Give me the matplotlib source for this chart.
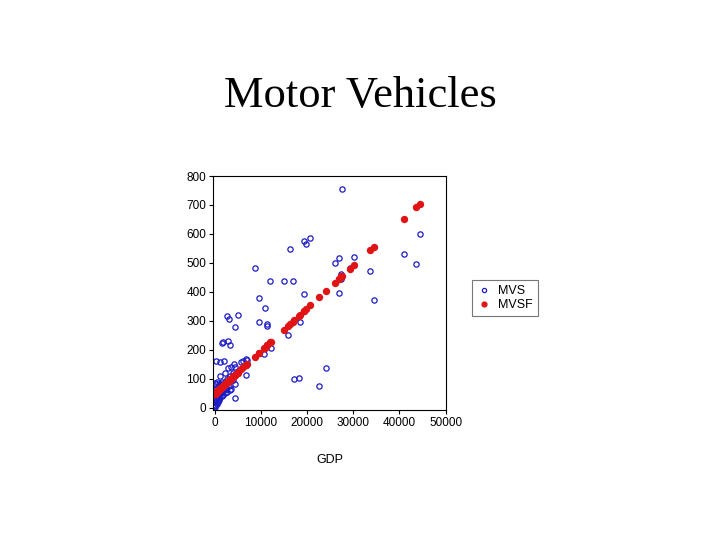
import matplotlib
matplotlib.use('Agg')
import matplotlib.pyplot as plt

# GDP vs motor vehicles (MVS) and fitted values (MVSF)
gdp = [27660, 44540, 41020, 43610, 33690, 34410, 30100, 26940, 26080, 27300,
       27450, 26870, 20690, 19250, 19760, 16380, 8690, 12070, 14940, 16880,
       19250, 9550, 10850, 9600, 11350, 11400, 18390, 15950, 12200, 10780,
       2730, 3230, 5030, 4380, 1650, 1940, 2870, 3450, 430, 1150,
       2010, 24070, 18320, 17240, 22700, 4530, 6750, 7040, 5750, 1290,
       2370, 4170, 4530, 430, 930, 4380, 3450, 29300,
       3000, 3500, 2600, 3100, 3600, 2800, 2200, 3900, 4100, 2500,
       3300, 5100, 6200, 6800,
       100, 200, 150, 300, 400, 350, 500, 600, 700, 800,
       900, 1000, 1100, 1200, 1300, 1400, 1500, 1600, 1700, 1800,
       2000, 250, 150, 600, 50, 80, 120, 200, 450, 700,
       900, 1050, 1250, 1550, 1900, 2300]

mvs = [754, 598, 531, 496, 471, 370, 520, 518, 501, 461,
       445, 397, 586, 574, 566, 549, 483, 437, 436, 436,
       394, 378, 345, 295, 290, 282, 297, 249, 207, 184,
       318, 305, 319, 280, 224, 225, 230, 217, 160, 159,
       161, 137, 103, 97, 76, 33, 111, 164, 156, 108,
       118, 152, 141, 83, 83, 83, 60, 482,
       135, 140, 100, 75, 65, 55, 90, 120, 95, 65,
       110, 128, 160, 168,
       5, 10, 20, 15, 30, 45, 25, 40, 55, 35,
       60, 45, 70, 50, 80, 60, 75, 55, 90, 70,
       60, 65, 85, 90, 2, 8, 30, 50, 12, 20,
       30, 25, 35, 40, 45, 50]

mvsf = [456, 705, 653, 692, 545, 556, 492, 445, 432, 450,
        453, 444, 353, 332, 339, 289, 175, 225, 268, 296,
        332, 188, 207, 189, 215, 216, 319, 283, 227, 206,
        87, 95, 121, 112, 71, 76, 89, 98, 53, 64,
        77, 403, 318, 302, 383, 114, 147, 151, 132, 66,
        82, 109, 114, 53, 61, 112, 98, 480,
        91, 99, 85, 93, 100, 88, 80, 105, 108, 84,
        96, 122, 139, 148,
        48, 50, 49, 51, 53, 52, 54, 56, 57, 59,
        60, 62, 63, 65, 66, 68, 69, 71, 72, 74,
        77, 51, 49, 56, 48, 48, 49, 50, 54, 57,
        60, 62, 65, 70, 75, 81]

fig = plt.figure(figsize=(7.2, 5.4), dpi=100)
fig.patch.set_facecolor('white')
fig.text(0.5, 0.822, 'Motor Vehicles', ha='center', va='center',
         family='Liberation Serif', fontsize=32)

ax = fig.add_axes([0.296, 0.241, 0.323, 0.433])
ax.plot(gdp, mvs, 'o', color='#1c1cc8', mfc='none', mew=0.9, ms=3.8, label='MVS')
ax.plot(gdp, mvsf, 'o', color='#e01414', mec='#e01414', ms=4.3, label='MVSF')

ax.set_xlim(-300, 50000)
ax.set_ylim(-8, 800)
ax.set_xticks([0, 10000, 20000, 30000, 40000, 50000])
ax.set_yticks([0, 100, 200, 300, 400, 500, 600, 700, 800])
for s in ax.spines.values():
    s.set_linewidth(0.8)
ax.tick_params(labelsize=8.5, length=3, width=0.8, pad=2)
for lbl in ax.get_xticklabels() + ax.get_yticklabels():
    lbl.set_family('Liberation Sans')
ax.set_xlabel('GDP', family='Liberation Sans', fontsize=9, labelpad=18)

leg = ax.legend(loc='center left', bbox_to_anchor=(1.085, 0.477), fancybox=False,
                frameon=True, edgecolor='#555555',
                prop={'family': 'Liberation Sans', 'size': 9},
                handletextpad=0.5, handlelength=1.2, borderpad=0.4,
                labelspacing=0.15, markerscale=0.8)
leg.get_frame().set_linewidth(0.8)

plt.savefig('out.png', dpi=100)
